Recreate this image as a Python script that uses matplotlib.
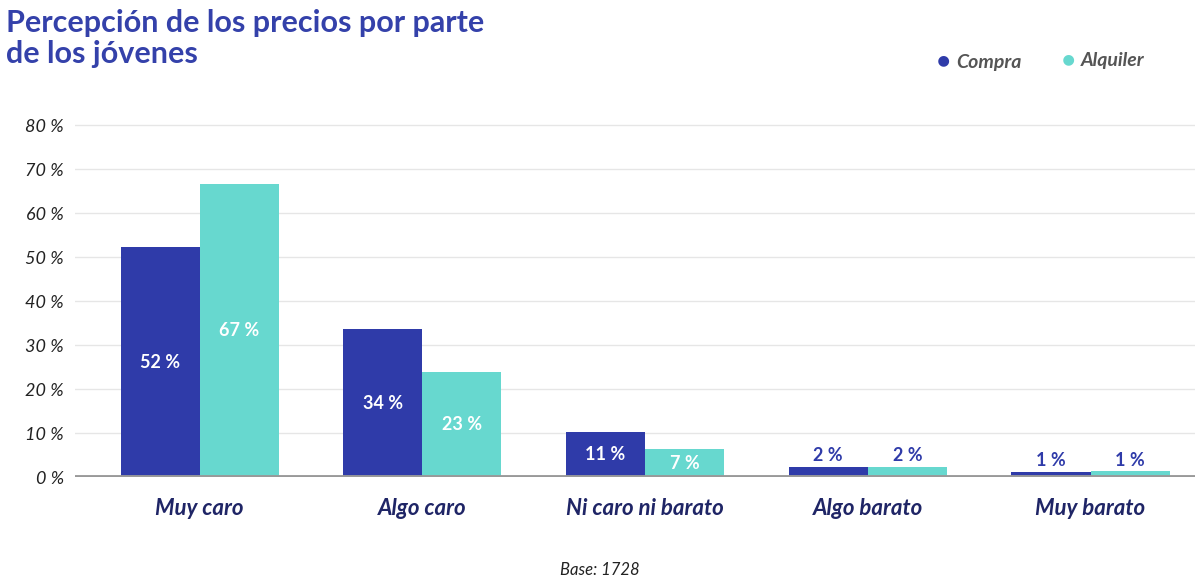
import matplotlib
matplotlib.use("Agg")
import matplotlib.pyplot as plt
import numpy as np

plt.rcParams['font.family'] = ['Lato', 'DejaVu Sans']

# data
categories = ["Muy caro", "Algo caro", "Ni caro ni barato", "Algo barato", "Muy barato"]
compra = [52.3, 33.6, 10.2, 2.3, 1.2]
alquiler = [66.6, 23.9, 6.4, 2.3, 1.3]
compra_labels = ["52 %", "34 %", "11 %", "2 %", "1 %"]
alquiler_labels = ["67 %", "23 %", "7 %", "2 %", "1 %"]
yticks = [0, 10, 20, 30, 40, 50, 60, 70, 80]

c_compra = "#2f3ba9"
c_alq = "#67d8cf"
c_title = "#3441aa"
c_navy = "#1f2566"

fig = plt.figure(figsize=(12, 5.84), dpi=100)
ax = fig.add_axes([0.0625, 0.183, 0.9335, 0.618])

x = np.arange(len(categories))
w = 0.355
b1 = ax.bar(x - w / 2, compra, w, color=c_compra, zorder=3)
b2 = ax.bar(x + w / 2, alquiler, w, color=c_alq, zorder=3)

# labels: inside for tall bars, above for small ones
for bars, labels in [(b1, compra_labels), (b2, alquiler_labels)]:
    for rect, lab in zip(bars, labels):
        h = rect.get_height()
        cx = rect.get_x() + rect.get_width() / 2
        if h > 5:
            ax.text(cx, h / 2, lab, ha="center", va="center", color="white",
                    fontsize=13, fontweight="bold", zorder=4)
        else:
            ax.text(cx, h + 0.6, lab, ha="center", va="bottom", color=c_compra,
                    fontsize=13, fontweight="bold", zorder=4)

ax.set_xlim(-0.56, 4.47)
ax.set_ylim(0, 82)
ax.set_yticks(yticks)
ax.set_yticklabels([f"{t} %" for t in yticks], fontsize=13, style="italic",
                   color="#222222")
ax.yaxis.grid(True, color="#e6e6e6", lw=1, zorder=0)
ax.tick_params(axis="y", length=0, pad=8)
ax.tick_params(axis="x", length=0, pad=15)
ax.set_xticks(x)
ax.set_xticklabels(categories, fontsize=16, style="italic", fontweight="bold", color=c_navy)
for s in ax.spines.values():
    s.set_visible(False)
ax.axhline(0, color="#999999", lw=3.5, zorder=5)

# title
fig.text(0.005, 0.985, "Percepción de los precios por parte\nde los jóvenes", ha="left", va="top",
         fontsize=22, fontweight="bold", color=c_title, linespacing=1.15)

# legend
fig.text(0.786, 0.895, "●", color=c_compra, fontsize=16, ha="center", va="center")
fig.text(0.797, 0.893, "Compra", color="#555555", fontsize=14, style="italic",
         fontweight="bold", ha="left", va="center")
fig.text(0.890, 0.897, "●", color=c_alq, fontsize=16, ha="center", va="center")
fig.text(0.901, 0.897, "Alquiler", color="#555555", fontsize=14, style="italic",
         fontweight="bold", ha="left", va="center")

fig.text(0.5, 0.024, "Base: 1728", ha="center", va="center", fontsize=12,
         style="italic", color="#222222")

fig.savefig("out.png", dpi=100, facecolor="white")
